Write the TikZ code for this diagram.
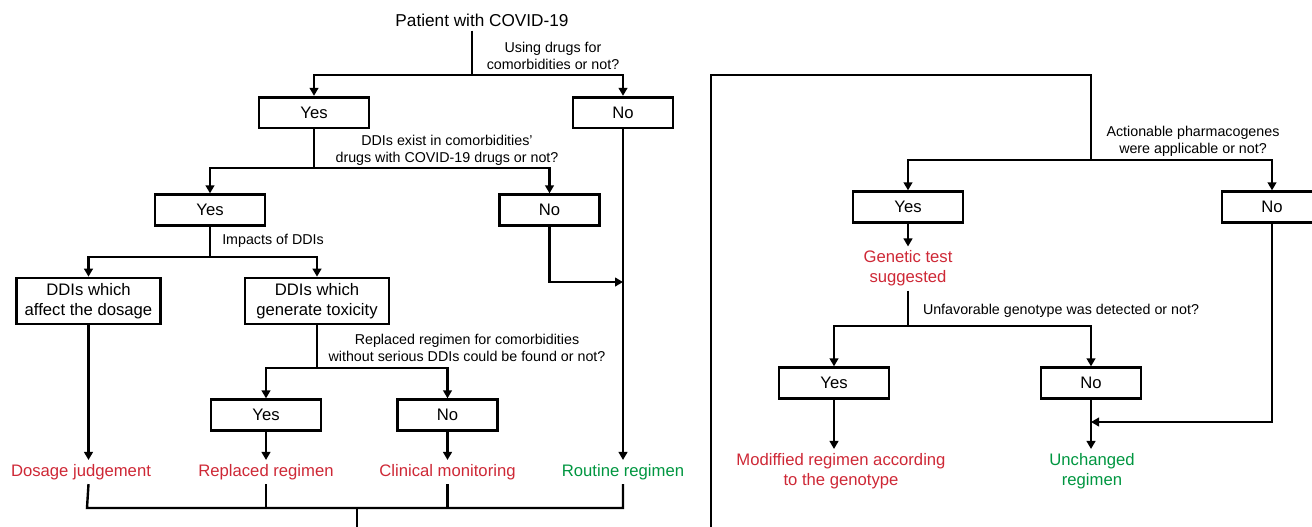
\documentclass[tikz,border=0pt]{standalone}
\usepackage{fontspec}
\setmainfont{Liberation Sans}
\usetikzlibrary{arrows.meta}
\definecolor{red}{RGB}{206,40,54}
\definecolor{green}{RGB}{0,150,64}
\newcommand{\largetext}{\fontsize{12.5pt}{15pt}\selectfont}
\newcommand{\titletext}{\fontsize{12.9pt}{15pt}\selectfont}
\newcommand{\smalltext}{\fontsize{10.7pt}{12.75pt}\selectfont}
\tikzstyle{title}=[font=\titletext, inner sep=3pt]
\tikzstyle{question}=[font=\smalltext, align=center, inner sep=1pt]
\tikzstyle{yes-box}=[draw, line width=2pt, rectangle, minimum width=82.5pt, minimum height=23pt, inner sep=0pt, font=\largetext]
\tikzstyle{no-box}=[draw, line width=2pt, rectangle, minimum width=75pt, minimum height=23pt, inner sep=0pt, font=\largetext]
\tikzstyle{impact-box}=[draw, line width=2pt, rectangle, minimum width=108pt, minimum height=34.5pt, inner sep=0pt, align=center, font=\largetext]
\tikzstyle{bad-outcome}=[text=red, font=\largetext, align=center, inner sep=3pt]
\tikzstyle{good-outcome}=[text=green, font=\largetext, align=center, inner sep=3pt]
\tikzstyle{link}=[line width=1.8pt]
\tikzstyle{link-arrow}=[line width=1.8pt, -{Triangle[length=6pt, width=6.5pt]}]

\begin{document}
\begin{tikzpicture}[x=0.75pt, y=-0.75pt]
\path[use as bounding box, clip] (0,0) rectangle (1312,526);

% left tree: comorbidity drugs and DDIs
\node[title] (patient) at (482,20) {Patient with COVID-19};
\node[question] (q-drugs) at (553,56) {Using drugs for\\comorbidities or not?};
\node[yes-box] (yes-drugs) at (314,112.5) {Yes};
\node[no-box] (no-drugs) at (623,112.5) {No};
\coordinate (split-drugs) at (472,75);
\draw[link] (split-drugs |- patient.south) -- (split-drugs);
\draw[link-arrow] (split-drugs) -| (yes-drugs);
\draw[link-arrow] (split-drugs) -| (no-drugs);

\node[question] (q-ddi) at (447,150.5) {DDIs exist in comorbidities’\\drugs with COVID-19 drugs or not?};
\node[yes-box] (yes-ddi) at (210,210) {Yes};
\node[no-box] (no-ddi) at (549.5,210) {No};
\coordinate (split-ddi) at (314,168);
\draw[link] (yes-drugs) -- (split-ddi);
\draw[link-arrow] (split-ddi) -| (yes-ddi);
\draw[link-arrow] (split-ddi) -| (no-ddi);

\node[question] (q-impact) at (273,241) {Impacts of DDIs};
\node[impact-box] (dose-box) at (88.5,301) {DDIs which\\affect the dosage};
\node[impact-box] (tox-box) at (317,301) {DDIs which\\generate toxicity};
\coordinate (split-impact) at (210,257);
\draw[link] (yes-ddi) -- (split-impact);
\draw[link-arrow] (split-impact) -| (dose-box);
\draw[link-arrow] (split-impact) -| (tox-box);

\node[question] (q-replace) at (467,347.5) {Replaced regimen for comorbidities\\without serious DDIs could be found or not?};
\node[yes-box] (yes-replace) at (266,415) {Yes};
\node[no-box] (no-replace) at (447.5,415) {No};
\coordinate (split-replace) at (317,368);
\draw[link] (tox-box) -- (split-replace);
\draw[link-arrow] (split-replace) -| (yes-replace);
\draw[link-arrow] (split-replace) -| (no-replace);

% outcomes of the left tree
\node[bad-outcome] (dosage) at (81,472) {Dosage judgement};
\node[bad-outcome] (replaced) at (266,472) {Replaced regimen};
\node[bad-outcome] (clinical) at (447.5,472) {Clinical monitoring};
\node[good-outcome] (routine) at (623,472) {Routine regimen};
\draw[link-arrow] (dose-box) -- (dose-box |- dosage.north);
\draw[link-arrow] (yes-replace) -- (replaced);
\draw[link-arrow] (no-replace) -- (clinical);
\draw[link-arrow] (no-drugs) -- (routine);
\coordinate (join-routine) at (623,282);
\draw[link-arrow] (no-ddi) |- (join-routine);

\coordinate (bottom-left) at (87,508);
\coordinate (bottom-mid) at (357,508);
\coordinate (to-genetic) at (357,540);
\draw[link] (dose-box |- dosage.south) -- (bottom-left) -| (routine.south);
\draw[link] (replaced) -- (replaced |- bottom-mid);
\draw[link] (clinical) -- (clinical |- bottom-mid);
\draw[link] (bottom-mid) -- (to-genetic);

% right tree: pharmacogenes
\coordinate (frame-bottom) at (711,540);
\coordinate (frame-left) at (711,75);
\coordinate (frame-right) at (1091,75);
\coordinate (split-pgx) at (1091,160);
\draw[link] (frame-bottom) -- (frame-left) -- (frame-right) -- (split-pgx);

\node[question] (q-pgx) at (1193,141.5) {Actionable pharmacogenes\\were applicable or not?};
\node[yes-box] (yes-pgx) at (908,207) {Yes};
\node[no-box] (no-pgx) at (1272,207) {No};
\draw[link-arrow] (split-pgx) -| (yes-pgx);
\draw[link-arrow] (split-pgx) -| (no-pgx);

\node[bad-outcome] (genetic) at (908,268.5) {Genetic test\\suggested};
\draw[link-arrow] (yes-pgx) -- (genetic);

\node[question] (q-geno) at (1061,311) {Unfavorable genotype was detected or not?};
\node[yes-box] (yes-geno) at (834,383) {Yes};
\node[no-box] (no-geno) at (1091,383) {No};
\coordinate (split-geno) at (908,326);
\draw[link] (genetic) -- (split-geno);
\draw[link-arrow] (split-geno) -| (yes-geno);
\draw[link-arrow] (split-geno) -| (no-geno);

\node[bad-outcome] (modified) at (841,471) {Modiffied regimen according\\to the genotype};
\node[good-outcome] (unchanged) at (1092,471) {Unchanged\\regimen};
\draw[link-arrow] (yes-geno) -- (yes-geno |- modified.north);
\draw[link-arrow] (no-geno) -- (no-geno |- unchanged.north);
\coordinate (join-unchanged) at (1091,422);
\draw[link-arrow] (no-pgx) |- (join-unchanged);
\end{tikzpicture}
\end{document}
